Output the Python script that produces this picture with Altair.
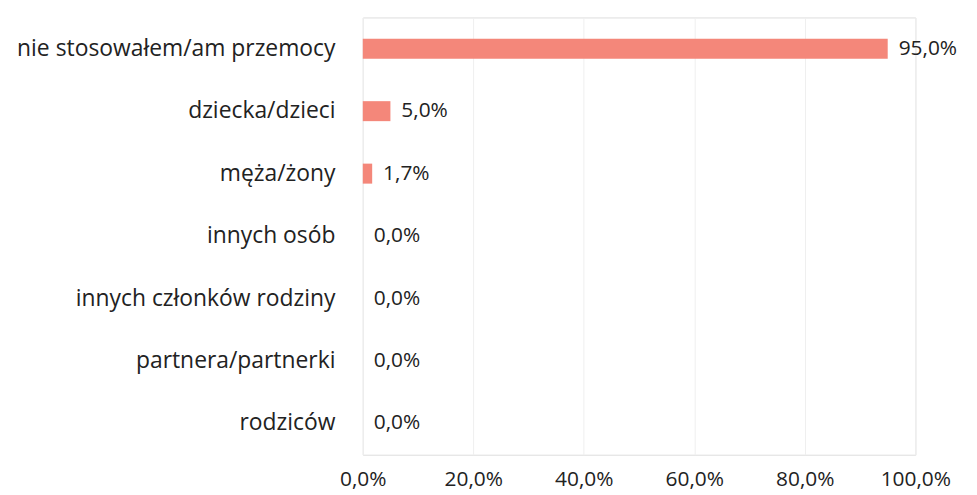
import altair as alt
import pandas as pd

categories = ["nie stosowałem/am przemocy", "dziecka/dzieci", "męża/żony", "innych osób",
              "innych członków rodziny", "partnera/partnerki", "rodziców"]
values = [95.0, 5.0, 1.7, 0.0, 0.0, 0.0, 0.0]
labels = ["95,0%", "5,0%", "1,7%", "0,0%", "0,0%", "0,0%", "0,0%"]

df = pd.DataFrame({"cat": categories, "val": values, "lab": labels})

FONT = "Open Sans"

x = alt.X("val:Q", scale=alt.Scale(domain=[0, 100], nice=False),
          axis=alt.Axis(values=[0, 20, 40, 60, 80, 100],
                        labelExpr="replace(format(datum.value, '.1f'), '.', ',') + '%'",
                        title=None, domain=False, ticks=False, grid=True,
                        gridColor="#efefef", labelPadding=14, labelFontSize=21,
                        labelFont=FONT, labelColor="#222222", labelFlush=False))
y = alt.Y("cat:N", sort=categories,
          axis=alt.Axis(title=None, domain=False, ticks=False, labelPadding=28,
                        labelFontSize=23, labelFont=FONT, labelColor="#222222",
                        labelLimit=400),
          scale=alt.Scale(paddingInner=0.68, paddingOuter=0.34))

bars = alt.Chart(df).mark_bar(color="#F4877A").encode(x=x, y=y)
text = alt.Chart(df).mark_text(align="left", baseline="middle", dx=11, fontSize=21,
                               font=FONT, color="#222222").encode(
    x="val:Q", y=alt.Y("cat:N", sort=categories), text="lab:N")

chart = (bars + text).properties(
    width=556, height=440,
    autosize=alt.AutoSizeParams(type="none"),
    padding={"left": 357, "top": 8, "right": 54, "bottom": 39},
).configure_view(stroke=None).configure(background="white")

chart.save("out.html", embed_options={"renderer": "svg", "actions": False})
